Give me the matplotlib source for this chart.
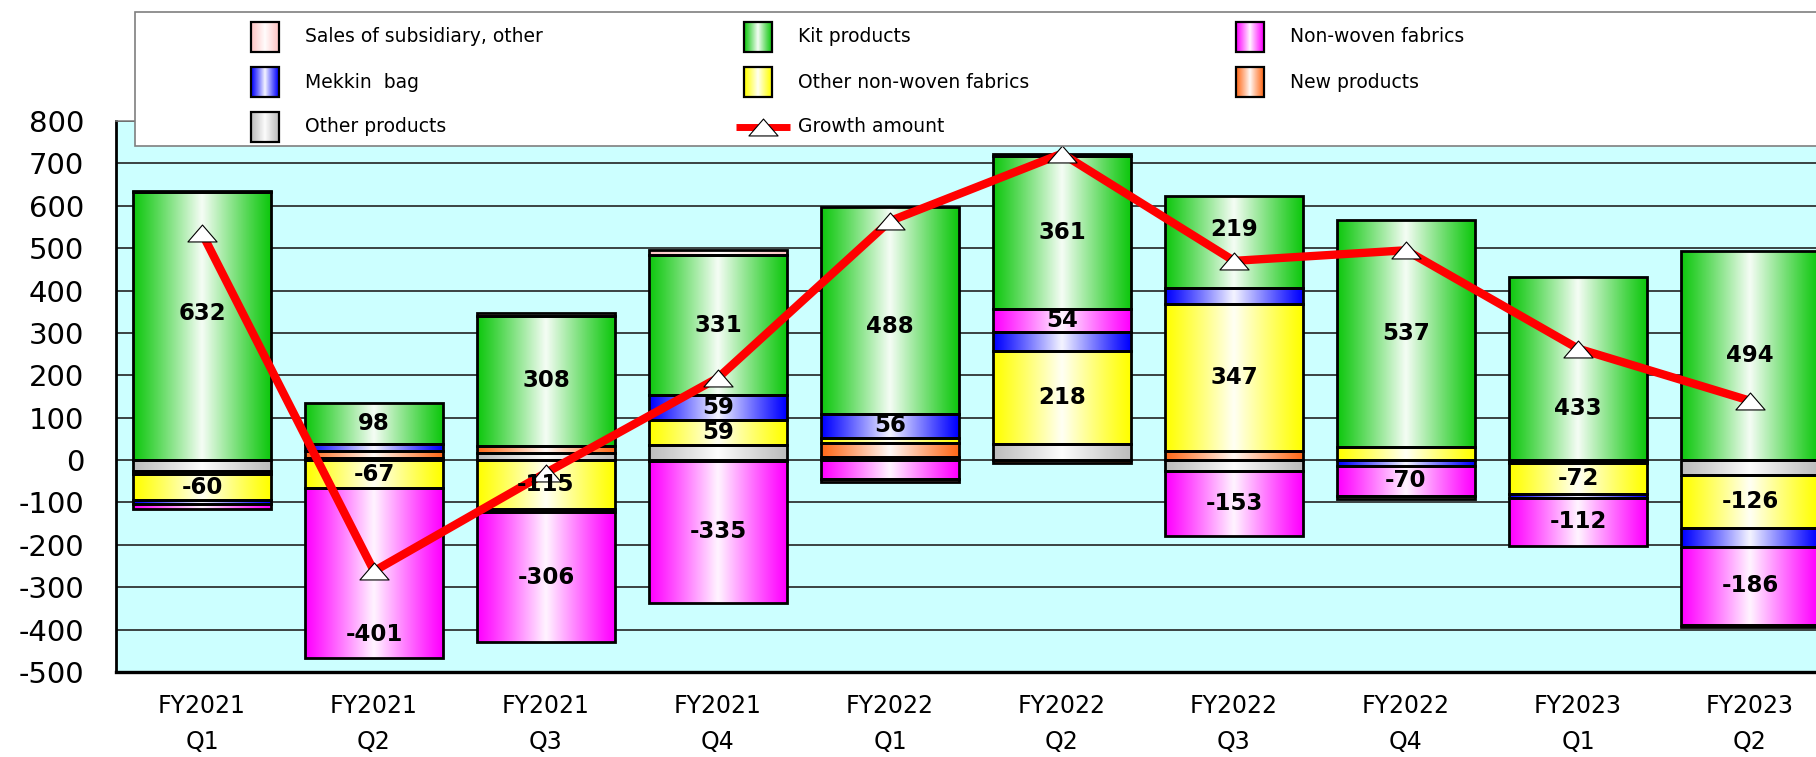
import numpy as np
import matplotlib
matplotlib.use("Agg")
import matplotlib.pyplot as plt
from matplotlib.patches import Rectangle
from matplotlib.path import Path
from matplotlib.colors import to_rgb

plt.rcParams['font.family'] = ['DejaVu Sans']
plt.rcParams['axes.unicode_minus'] = False

quarters = ["FY2021\nQ1", "FY2021\nQ2", "FY2021\nQ3", "FY2021\nQ4",
            "FY2022\nQ1", "FY2022\nQ2", "FY2022\nQ3", "FY2022\nQ4",
            "FY2023\nQ1", "FY2023\nQ2"]

# legend order; bars are stacked from the last one outward
series_names = ["Sales of subsidiary, other", "Kit products", "Non-woven fabrics",
                "Mekkin  bag", "Other non-woven fabrics", "New products",
                "Other products"]
series_colors = ["#FFC4C4", "#10C810", "#FF00FF", "#0000FF", "#FFFF00",
                 "#FF6A1A", "#BDBDBD"]

sales_subsidiary = [4, 0, 5, 12, -7, 4, 0, -9, 0, -3]
kit_products = [632, 98, 308, 331, 488, 361, 219, 537, 433, 494]
non_woven = [-12, -401, -306, -335, -45, 54, -153, -70, -112, -186]
mekkin_bag = [-10, 16, -8, 59, 56, 45, 37, -14, -10, -43]
other_non_woven = [-60, -67, -115, 59, 12, 218, 347, 30, -72, -126]
new_products = [-9, 17, 16, -2, 34, -8, 21, 0, -4, 0]
other_products = [-25, 4, 17, 35, 7, 39, -26, 0, -4, -35]
growth_amount = [535, -262, -30, 194, 564, 723, 470, 495, 263, 140]

series_values = [sales_subsidiary, kit_products, non_woven, mekkin_bag,
                 other_non_woven, new_products, other_products]

# a few value labels sit off-centre so they stay clear of the growth line
label_shift = {(1, 0): 29, (1, 4): -38, (1, 6): 30, (1, 8): -95, (2, 1): -145}


def cylinder(color, n=96):
    base = np.array(to_rgb(color))
    t = np.linspace(0, 1, n)
    w = 0.96 * (1 - np.abs(2 * t - 1)) ** 1.1
    return (base + (1 - base) * w[:, None])[None, :, :]


W, H = 1816, 757
fig = plt.figure(figsize=(W / 100, H / 100), dpi=100)
ax = fig.add_axes([116 / W, (H - 672) / H, 1720 / W, 551 / H])
ax.set_facecolor("#CCFFFF")

x = np.arange(len(quarters))
pos_base = np.zeros(len(x))
neg_base = np.zeros(len(x))

for k in reversed(range(len(series_names))):
    vals = np.array(series_values[k], dtype=float)
    bottoms = np.where(vals >= 0, pos_base, neg_base)
    bars = ax.bar(x, vals, 0.8, bottom=bottoms, facecolor="none",
                  edgecolor="black", linewidth=2.0, zorder=3,
                  label=series_names[k])
    grad = cylinder(series_colors[k])
    for j, rect in enumerate(bars):
        if vals[j] == 0:
            rect.set_visible(False)
            continue
        x0 = rect.get_x()
        y0, y1 = sorted([rect.get_y(), rect.get_y() + rect.get_height()])
        im = ax.imshow(grad, extent=[x0, x0 + rect.get_width(), y0, y1],
                       aspect="auto", interpolation="bilinear", zorder=2)
        im.set_clip_path(rect)
        if abs(vals[j]) >= 50:
            yc = bottoms[j] + vals[j] / 2 + label_shift.get((k, j), 0)
            ax.text(x[j], yc, f"{int(vals[j])}", ha="center", va="center",
                    fontsize=16.5, fontweight="bold", zorder=6)
    pos_base += np.where(vals > 0, vals, 0)
    neg_base += np.where(vals < 0, vals, 0)

tri = Path([(-1, -0.58), (1, -0.58), (0, 0.58), (-1, -0.58)],
           [Path.MOVETO, Path.LINETO, Path.LINETO, Path.CLOSEPOLY])
ax.plot(x, growth_amount, color="#FF0000", lw=6, marker=tri, ms=21,
        mfc="white", mec="black", mew=0.8, zorder=5, label="Growth amount")

ax.set_xlim(-0.5, len(x) - 0.5)
ax.set_ylim(-500, 800)
ax.set_yticks(np.arange(-500, 801, 100))
ax.set_xticks(x)
ax.set_xticklabels(quarters, fontsize=17, linespacing=1.64)
ax.tick_params(axis="y", length=0, pad=23, labelsize=21)
ax.tick_params(axis="x", length=0, pad=16)
ax.yaxis.grid(True, color="#222222", lw=1.2, zorder=1)
ax.set_axisbelow(True)
ax.spines["left"].set_linewidth(2)
ax.spines["bottom"].set_linewidth(2.4)
ax.spines["top"].set_color("#7f7f7f")
ax.spines["top"].set_linewidth(1.1)
ax.spines["right"].set_visible(False)

# legend panel, laid out in figure pixels
lax = fig.add_axes([0, 0, 1, 1], zorder=10)
lax.set_xlim(0, W)
lax.set_ylim(H, 0)
lax.axis("off")
lax.add_patch(Rectangle((135, 12), 1750, 134, facecolor="white",
                        edgecolor="#7f7f7f", lw=1.2))
entries = series_names + ["Growth amount"]
for i, name in enumerate(entries):
    row, col = divmod(i, 3)
    mx = 251 + col * 492.5
    my = 37 + row * 45
    if i < len(series_names):
        box = Rectangle((mx, my - 15), 28, 30, facecolor="none",
                        edgecolor="black", lw=1.6, zorder=3)
        lax.add_patch(box)
        im = lax.imshow(cylinder(series_colors[i]),
                        extent=[mx, mx + 28, my + 15, my - 15],
                        aspect="auto", interpolation="bilinear", zorder=2)
        im.set_clip_path(box)
    else:
        lax.plot([mx - 8, mx + 46], [my, my], color="#FF0000", lw=5,
                 solid_capstyle="butt")
        lax.plot([mx + 19], [my], marker=tri, ms=21, mfc="white",
                 mec="black", mew=0.8, ls="none")
    lax.text(mx + 54, my, name, fontsize=13.5, va="center", ha="left")
lax.set_xlim(0, W)
lax.set_ylim(H, 0)

fig.savefig("out.png", dpi=100)
